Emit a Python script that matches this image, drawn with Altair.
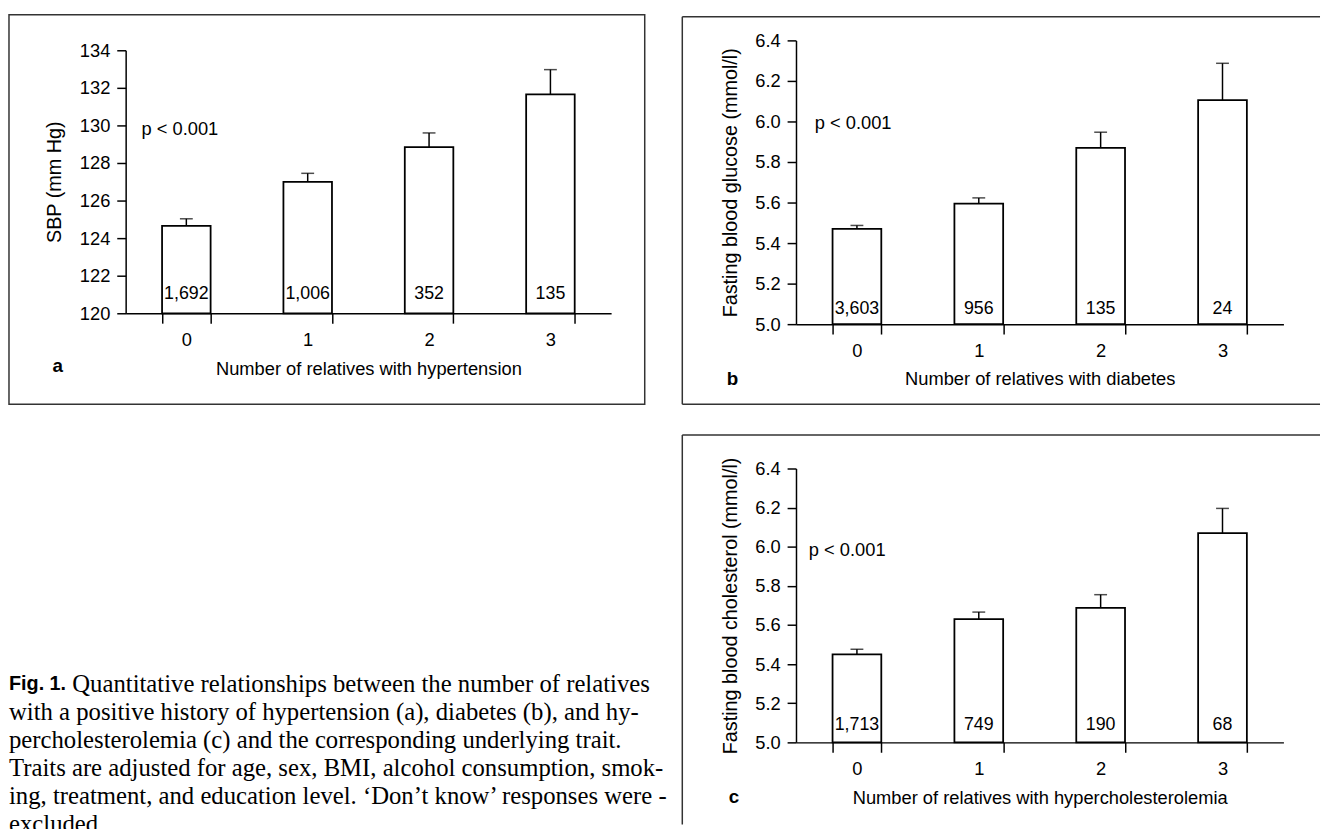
import altair as alt
import pandas as pd

# ---------------- data ----------------
categories = ["0", "1", "2", "3"]

sbp_mean = [124.65, 127.0, 128.85, 131.65]
sbp_upper = [125.03, 127.45, 129.6, 132.97]
sbp_n = ["1,692", "1,006", "352", "135"]
sbp_ticks = [120, 122, 124, 126, 128, 130, 132, 134]

glu_mean = [5.47, 5.595, 5.87, 6.105]
glu_upper = [5.487, 5.623, 5.947, 6.287]
glu_n = ["3,603", "956", "135", "24"]

chol_mean = [5.45, 5.63, 5.687, 6.07]
chol_upper = [5.476, 5.666, 5.755, 6.196]
chol_n = ["1,713", "749", "190", "68"]

mmol_ticks = [5.0, 5.2, 5.4, 5.6, 5.8, 6.0, 6.2, 6.4]

p_label = "p < 0.001"

caption_bold = "Fig. 1."
caption_lines = [
    "Quantitative relationships between the number of relatives",
    "with a positive history of hypertension (a), diabetes (b), and hy-",
    "percholesterolemia (c) and the corresponding underlying trait.",
    "Traits are adjusted for age, sex, BMI, alcohol consumption, smok-",
    "ing, treatment, and education level. \u2018Don\u2019t know\u2019 responses were -",
    "excluded.",
]

SANS = "Liberation Sans"
SERIF = "Liberation Serif"
FRAME = "#333333"


def one_row():
    return pd.DataFrame({"k": [0]})


def vtext(text, x, y, size=18.5, font=SANS, weight="normal", align="left"):
    return alt.Chart(one_row()).mark_text(
        font=font, fontSize=size, fontWeight=weight, align=align,
        baseline="middle", color="black"
    ).encode(x=alt.value(x), y=alt.value(y), text=alt.value(text))


def vline(x, x2, y, y2, opacity=1.0):
    return alt.Chart(one_row()).mark_rule(
        color=FRAME, strokeWidth=1.5, opacity=opacity
    ).encode(x=alt.value(x), x2=alt.value(x2), y=alt.value(y), y2=alt.value(y2))


def panel(means, uppers, ns, lo, hi, ticks, fmt, ytitle, xtitle, W, H, yrange,
          ytitle_x, count_dy, p_xy, letter, letter_xy, extras):
    df = pd.DataFrame({"cat": categories, "mean": means, "upper": uppers,
                       "n": ns, "base": [lo] * len(categories)})
    xaxis = alt.Axis(title=xtitle, labelAngle=0, tickBand="extent", tickSize=10,
                     labelPadding=8, titlePadding=10, labelFontSize=18.5,
                     titleFontSize=18.5)
    yaxis = alt.Axis(title=ytitle, values=ticks, format=fmt, tickSize=9,
                     labelPadding=7, titleX=ytitle_x, titleBaseline="middle",
                     labelFontSize=18.5, labelOverlap=False,
                     titleFontSize=20, grid=False)
    xscale = alt.Scale(paddingInner=0.6, paddingOuter=0.3)
    if yrange is not None:
        yscale = alt.Scale(domain=[lo, hi], nice=False, zero=False, range=yrange)
    else:
        yscale = alt.Scale(domain=[lo, hi], nice=False, zero=False)

    def X():
        return alt.X("cat:N", axis=xaxis, scale=xscale)

    def Y(field):
        return alt.Y(field, axis=yaxis, scale=yscale)

    base = alt.Chart(df)
    bars = base.mark_bar(fill="white", stroke="black", strokeWidth=1.8).encode(
        x=X(), y=Y("mean:Q"), y2="base:Q")
    whisk = base.mark_rule(color="black", strokeWidth=1.5).encode(
        x=X(), y=Y("mean:Q"), y2="upper:Q")
    cap = base.mark_tick(color="black", thickness=1.5, size=13).encode(
        x=X(), y=Y("upper:Q"))
    counts = base.mark_text(font=SANS, fontSize=18, baseline="middle",
                            dy=-count_dy, color="black").encode(
        x=X(), y=Y("base:Q"), text="n:N")
    layers = [bars, whisk, cap, counts,
              vtext(p_label, p_xy[0], p_xy[1]),
              vtext(letter, letter_xy[0], letter_xy[1], size=19, weight="bold")]
    layers += extras
    return alt.layer(*layers).properties(width=W, height=H)


# ---- panel a ----  plot origin at page (127, 36)
a_extras = [
    alt.Chart(one_row()).mark_rect(filled=False, stroke=FRAME, strokeWidth=1.5).encode(
        x=alt.value(-118), x2=alt.value(525), y=alt.value(-26), y2=alt.value(368)),
]
panel_a = panel(sbp_mean, sbp_upper, sbp_n, 120, 134, sbp_ticks, "d",
                "SBP (mm Hg)", "Number of relatives with hypertension",
                491, 276, [276, 10], -72, 19, (16, 90), "a", (-74, 329), a_extras)

# ---- panel b ----  plot origin at page (805, 36)
b_extras = [
    vline(-115, 530, -24, -24),
    vline(-115, -115, -24, 368),
    vline(-115, 530, 368, 368),
    vline(-115, -115, -26, -26, opacity=0),
]
panel_b = panel(glu_mean, glu_upper, glu_n, 5.0, 6.4, mmol_ticks, ".1f",
                "Fasting blood glucose (mmol/l)", "Number of relatives with diabetes",
                493, 287, None, -66, 15, (19, 84), "b", (-70, 343), b_extras)

# ---- caption ----  view origin at page (127, 469)
cap_layers = [
    vtext(caption_bold, -118, 218, size=20, weight="bold"),
    vtext(caption_lines[0], -54, 218, size=25, font=SERIF),
]
for i, line in enumerate(caption_lines[1:], start=1):
    cap_layers.append(vtext(line, -118, 218 + 28.3 * i, size=25, font=SERIF))
caption = alt.layer(*cap_layers).properties(width=491, height=277)

# ---- panel c ----  plot origin at page (805, 469)
c_extras = [
    vline(-115, 530, -34, -34),
    vline(-115, -115, -34, 360),
]
panel_c = panel(chol_mean, chol_upper, chol_n, 5.0, 6.4, mmol_ticks, ".1f",
                "Fasting blood cholesterol (mmol/l)",
                "Number of relatives with hypercholesterolemia",
                493, 277, None, -66, 18, (13, 82), "c", (-68, 332), c_extras)

chart = alt.concat(
    panel_a, panel_b, caption, panel_c,
    columns=2,
    spacing={"row": 146, "column": 185},
    bounds="flush",
    align="all",
).properties(
    padding={"left": 0, "top": 1, "right": 0, "bottom": 0}
).configure_view(stroke=None).configure_axis(
    labelFont=SANS, titleFont=SANS, labelColor="black", titleColor="black",
    domainColor="black", tickColor="black", domainWidth=1.5, tickWidth=1.5,
    titleFontWeight="normal", labelFontSize=18.5, labelOverlap=False,
)

chart.save("out.html", embed_options={"renderer": "svg", "actions": False})
